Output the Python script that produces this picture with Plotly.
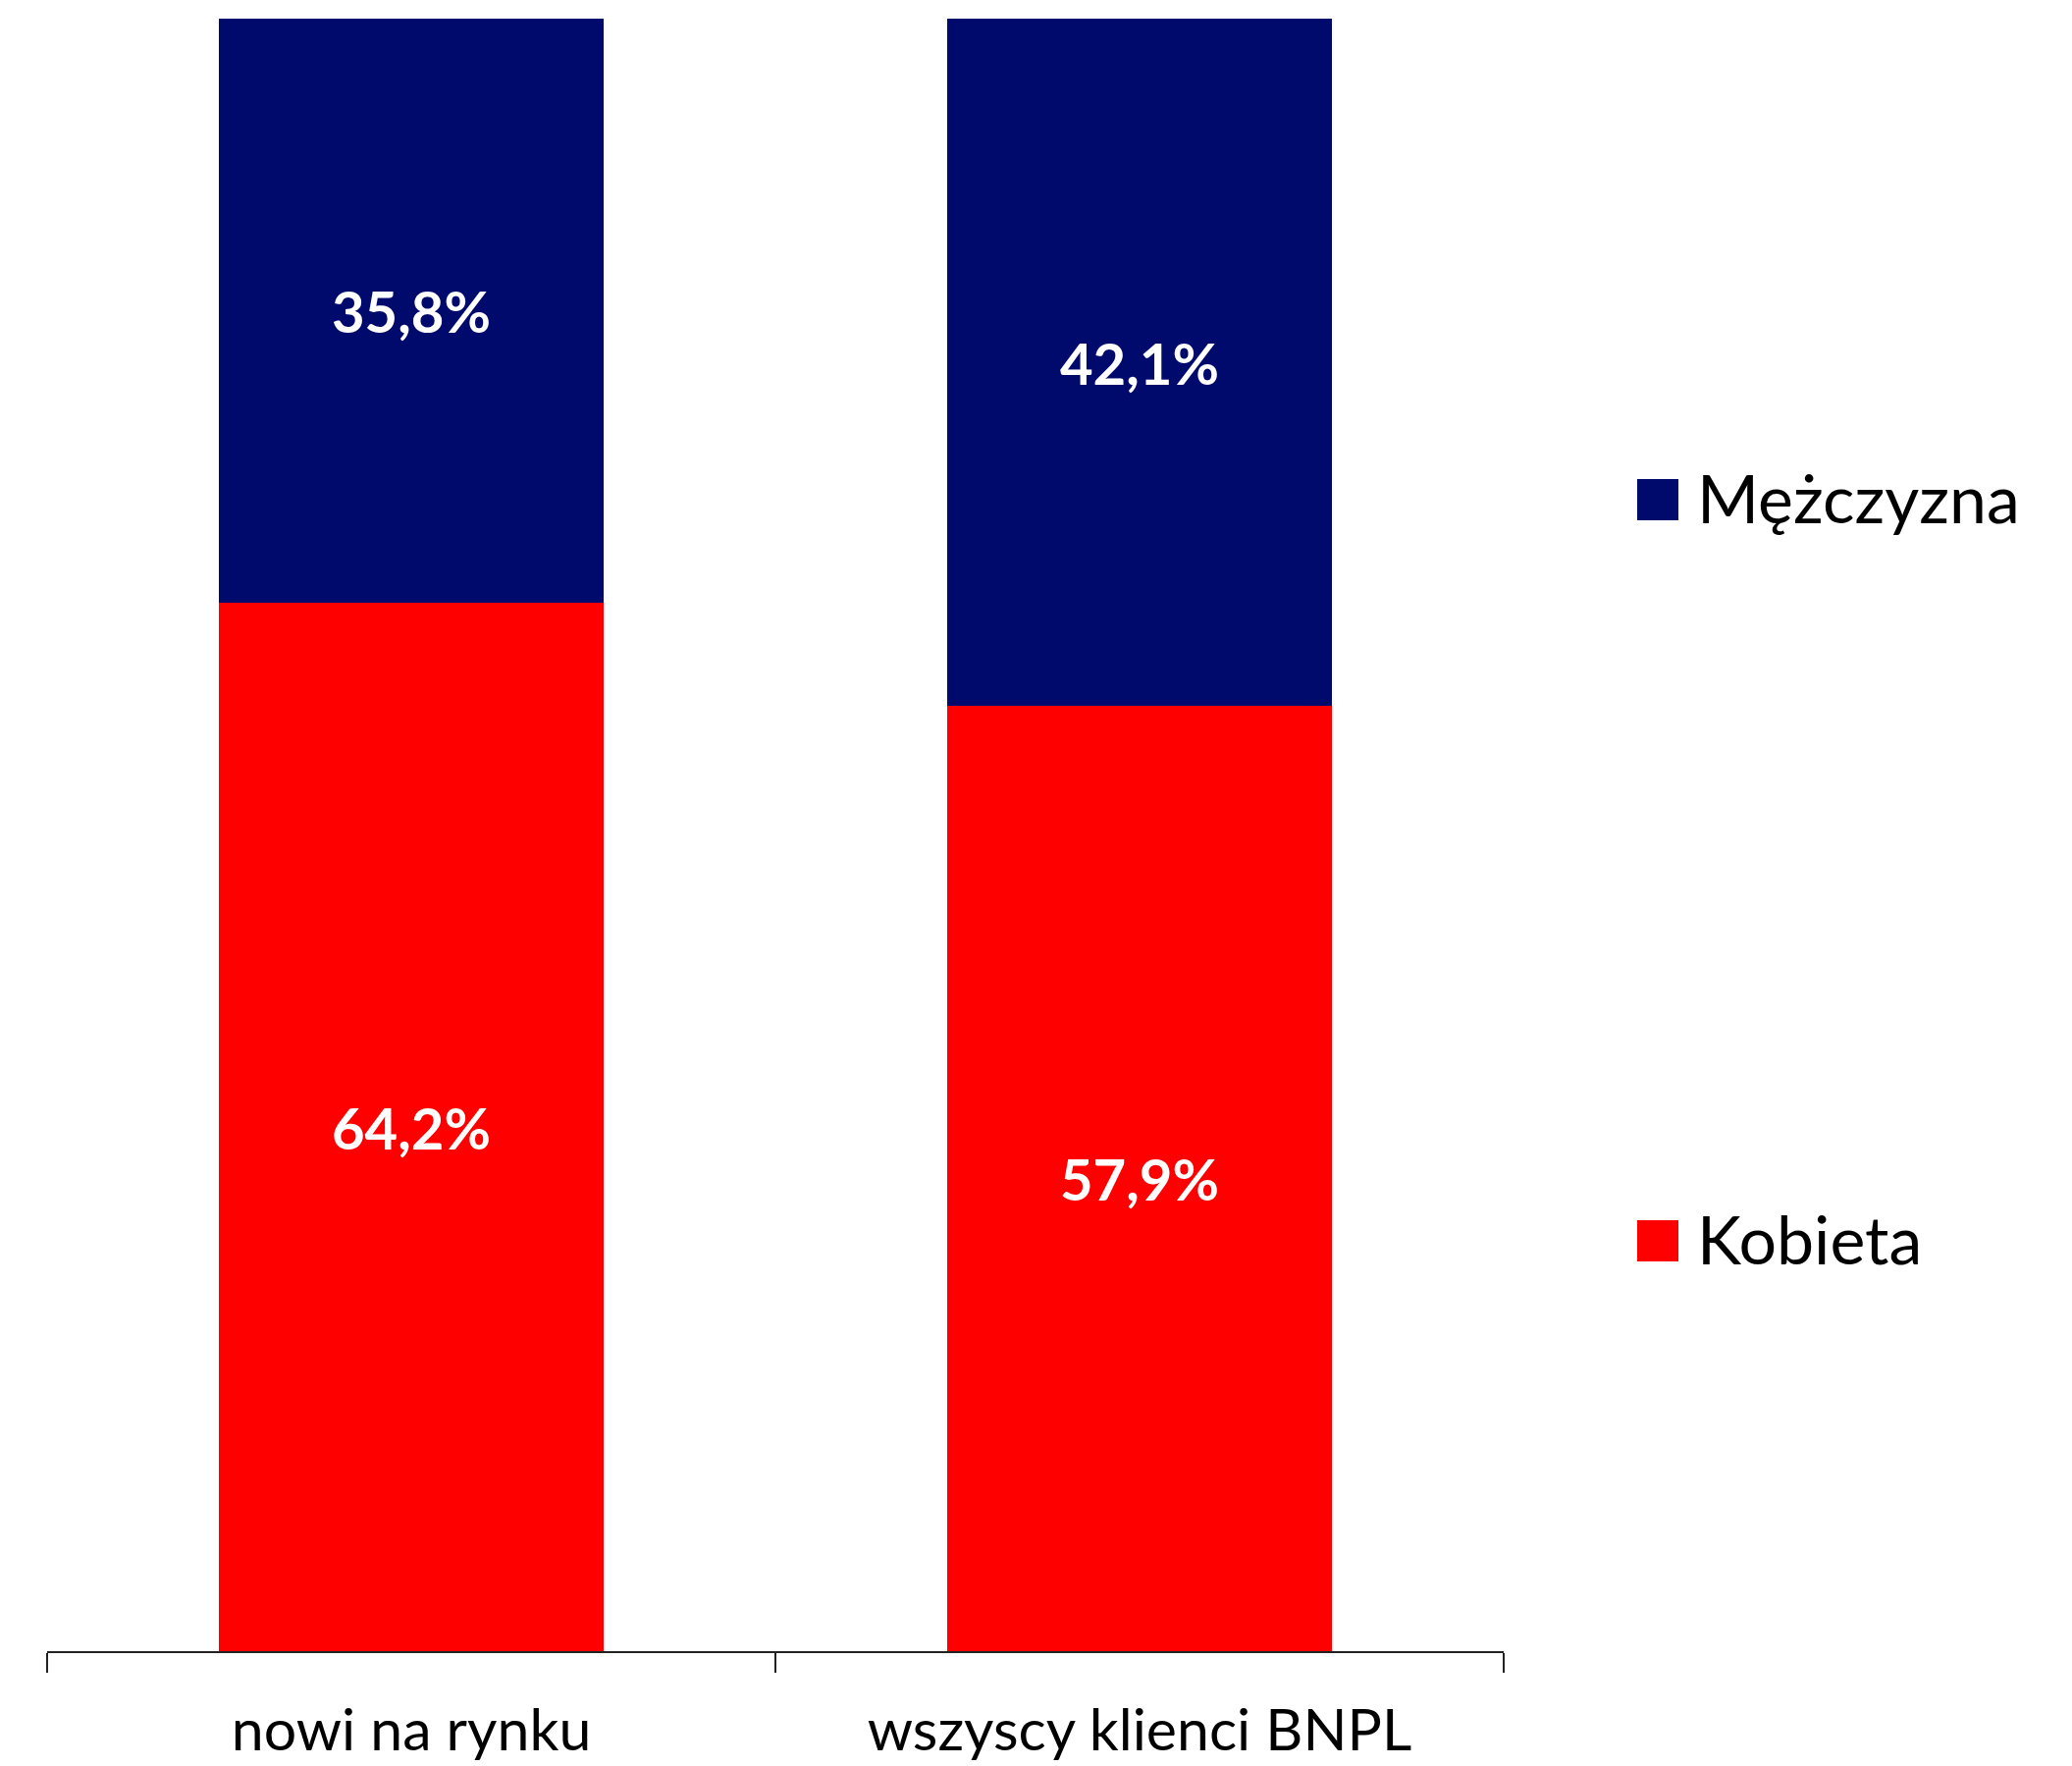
import plotly.graph_objects as go

categories = ["nowi na rynku", "wszyscy klienci BNPL"]
kobieta = [64.2, 57.9]
mezczyzna = [35.8, 42.1]
series_names = ["Kobieta", "Mężczyzna"]
series_colors = ["#FF0000", "#000A6C"]

OFF = 8  # page body margin
W, H = 2111 - OFF, 1799 - OFF
PL, PR, PT, PB = 48, 1532, 19, 1682  # plot area in page pixels
L, R, T, B = PL - OFF, 2111 - PR, PT - OFF, 1799 - PB

fig = go.Figure()
for name, vals, col in zip(series_names, [kobieta, mezczyzna], series_colors):
    fig.add_trace(go.Bar(
        x=categories, y=vals, name=name, marker=dict(color=col, line=dict(width=0)),
        width=0.527, texttemplate="%{y:.1f}%", textposition="inside",
        insidetextanchor="middle",
        textfont=dict(family="Lato", size=58, color="white", weight="bold"),
        showlegend=False,
    ))

# manual legend (large square keys)
plot_w = PR - PL
plot_h = PB - PT
def px_x(p):
    return (p - PL) / plot_w
def px_y(p):
    return 1 - (p - PT) / plot_h

legend_centers = {"Mężczyzna": 509, "Kobieta": 1264}
for name, col in zip(series_names, series_colors):
    cy = legend_centers[name]
    fig.add_shape(type="rect", xref="paper", yref="paper",
                  x0=px_x(1668), x1=px_x(1710), y0=px_y(cy + 21), y1=px_y(cy - 21),
                  fillcolor=col, line=dict(width=0))
    fig.add_annotation(xref="paper", yref="paper", x=px_x(1727), y=px_y(cy - 3),
                       text=name, showarrow=False, xanchor="left", yanchor="middle",
                       font=dict(family="Lato", size=68, color="black"))

fig.update_layout(
    width=W, height=H, barmode="stack", separators=", ",
    margin=dict(l=L, r=R, t=T, b=B, autoexpand=False),
    plot_bgcolor="white", paper_bgcolor="white",
    showlegend=False,
    xaxis=dict(showline=True, linecolor="#222222", linewidth=2, automargin=False,
               ticks="outside", tickson="boundaries", ticklen=20, tickwidth=2, tickcolor="#222222",
               tickfont=dict(family="Lato", size=59, color="black"),
               showgrid=False, range=[-0.5, 1.5], ticklabelstandoff=28),
    yaxis=dict(range=[0, 100], visible=False, showgrid=False, automargin=False),
)

fig.write_html("out.html")
